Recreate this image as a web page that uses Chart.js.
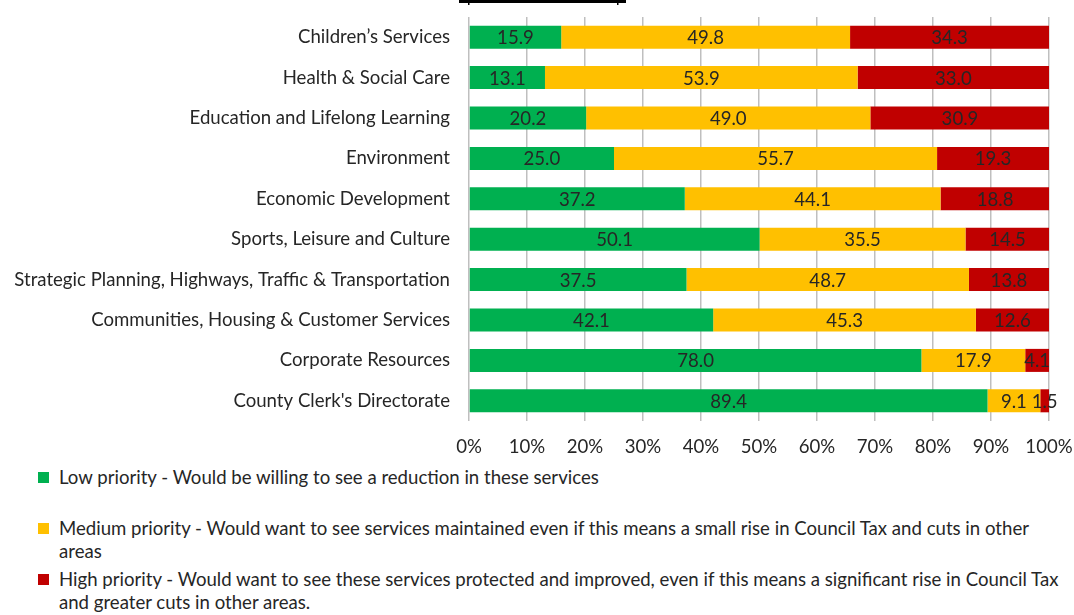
<!DOCTYPE html>
<html>
<head>
<meta charset="utf-8">
<script src="https://cdn.jsdelivr.net/npm/chart.js@4"></script>
<style>
  html, body { margin: 0; padding: 0; background: #fff; }
  body { width: 1074px; height: 615px; position: relative; overflow: hidden; font-family: Lato, "Open Sans", sans-serif; }
  #wrap { position: absolute; left: 0; top: 0; width: 1074px; height: 460px; }
  #legend { position: absolute; left: 38px; top: 466px; width: 1030px; color: #262626; font-size: 18.6px; line-height: 23px; }
  .item { display: flex; align-items: flex-start; min-height: 46px; margin-bottom: 5px; }
  .sw { width: 11px; height: 11px; flex: none; margin-top: 6px; margin-right: 10px; }
</style>
</head>
<body>
<div id="wrap"><canvas id="c"></canvas></div>
<div id="legend"></div>
<script>
const categories = [
  "Children\u2019s Services",
  "Health & Social Care",
  "Education and Lifelong Learning",
  "Environment",
  "Economic Development",
  "Sports, Leisure and Culture",
  "Strategic Planning, Highways, Traffic & Transportation",
  "Communities, Housing & Customer Services",
  "Corporate Resources",
  "County Clerk's Directorate"
];
const lowPriority    = [15.9, 13.1, 20.2, 25.0, 37.2, 50.1, 37.5, 42.1, 78.0, 89.4];
const mediumPriority = [49.8, 53.9, 49.0, 55.7, 44.1, 35.5, 48.7, 45.3, 17.9, 9.1];
const highPriority   = [34.3, 33.0, 30.9, 19.3, 18.8, 14.5, 13.8, 12.6, 4.1, 1.5];
const seriesLabels = [
  "Low priority - Would be willing to see a reduction in these services",
  "Medium priority - Would want to see services maintained even if this means a small rise in Council Tax and cuts in other areas",
  "High priority - Would want to see these services protected and improved, even if this means a significant rise in Council Tax and greater cuts in other areas."
];
const seriesColors = ["#00B050", "#FFC000", "#C00000"];
const percentTicks = [0, 10, 20, 30, 40, 50, 60, 70, 80, 90, 100];

const FONT = "Lato, 'Open Sans', sans-serif";
const FONT_SIZE = 18.6;
const TEXT = "#262626";

// Value labels centred in each segment
const segmentLabels = {
  id: "segmentLabels",
  afterDatasetsDraw(chart) {
    const ctx = chart.ctx;
    ctx.save();
    ctx.font = FONT_SIZE + "px " + FONT;
    ctx.fillStyle = TEXT;
    ctx.textAlign = "center";
    ctx.textBaseline = "middle";
    chart.data.datasets.forEach((ds, di) => {
      chart.getDatasetMeta(di).data.forEach((bar, i) => {
        const cx = (bar.x + bar.base) / 2;
        ctx.fillText(ds.data[i].toFixed(1), cx, bar.y + 1);
      });
    });
    ctx.restore();
  }
};

// Heavy rule along the top edge above the plot
const topRule = {
  id: "topRule",
  beforeDraw(chart) {
    const ctx = chart.ctx;
    const x0 = chart.chartArea.left - 10;
    ctx.save();
    ctx.fillStyle = "#000";
    ctx.fillRect(x0, 0, 167, 3);
    ctx.fillRect(x0 + 9, 0, 1.5, 5);
    ctx.fillRect(x0 + 158, 0, 1.5, 5);
    ctx.restore();
  }
};

new Chart(document.getElementById("c"), {
  type: "bar",
  data: {
    labels: categories,
    datasets: [lowPriority, mediumPriority, highPriority].map((d, i) => ({
      label: seriesLabels[i],
      data: d,
      backgroundColor: seriesColors[i],
      borderWidth: 0,
      barPercentage: 0.57,
      categoryPercentage: 1.0
    }))
  },
  options: {
    indexAxis: "y",
    responsive: true,
    maintainAspectRatio: false,
    animation: false,
    layout: { padding: { top: 17, right: 25, left: 0, bottom: 0 } },
    plugins: { legend: { display: false }, tooltip: { enabled: false } },
    scales: {
      x: {
        stacked: true,
        min: 0, max: 100,
        afterBuildTicks(s) { s.ticks = percentTicks.map(v => ({ value: v })); },
        afterFit(s) { s.height = 39; s.paddingLeft = 0; s.paddingRight = 0; },
        grid: { color: "#BFBFBF", lineWidth: 1.5, drawTicks: false },
        border: { display: false },
        ticks: {
          padding: 15,
          color: TEXT,
          font: { family: FONT, size: FONT_SIZE },
          callback: v => v + "%",
          maxRotation: 0
        }
      },
      y: {
        stacked: true,
        afterFit(s) { s.width = 469; s.paddingTop = 0; s.paddingBottom = 0; },
        grid: { display: false, drawTicks: false },
        border: { display: false },
        ticks: {
          padding: 19,
          color: TEXT,
          font: { family: FONT, size: FONT_SIZE }
        }
      }
    }
  },
  plugins: [segmentLabels, topRule]
});

// Legend below the chart
const legend = document.getElementById("legend");
seriesLabels.forEach((txt, i) => {
  const item = document.createElement("div");
  item.className = "item";
  const sw = document.createElement("span");
  sw.className = "sw";
  sw.style.background = seriesColors[i];
  const t = document.createElement("span");
  t.textContent = txt;
  item.appendChild(sw);
  item.appendChild(t);
  legend.appendChild(item);
});
</script>
</body>
</html>
